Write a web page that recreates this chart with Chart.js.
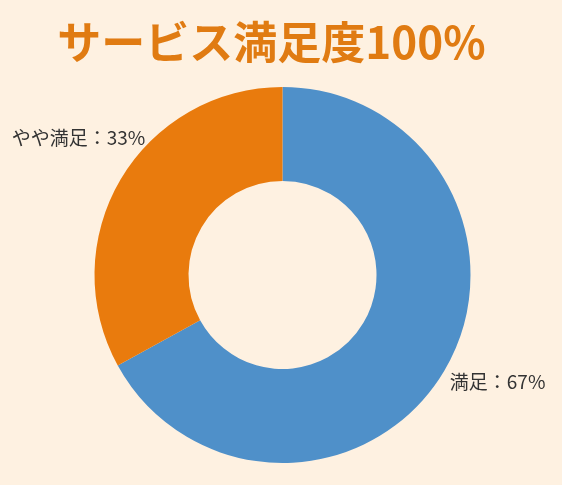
<!DOCTYPE html>
<html><head><meta charset="utf-8">
<script src="https://cdn.jsdelivr.net/npm/chart.js@4.4.0/dist/chart.umd.min.js"></script>
<style>
html,body{margin:0;padding:0;background:#fef1e1;}
#wrap{width:562px;height:485px;position:relative;}
</style></head>
<body><div id="wrap"><canvas id="c" width="562" height="485"></canvas></div>
<script>
const titleText = 'サービス満足度100%';
const categories = ['満足', 'やや満足'];
const values = [67, 33];
const colors = ['#4f90c9', '#e97b0d'];

const labelPlugin = {
  id: 'labels',
  afterDatasetsDraw(chart) {
    const ctx = chart.ctx;
    const meta = chart.getDatasetMeta(0);
    ctx.save();
    ctx.font = '19px "Noto Sans CJK JP", sans-serif';
    ctx.fillStyle = '#333333';
    ctx.textBaseline = 'middle';
    meta.data.forEach((arc, i) => {
      const p = arc.getProps(['x','y','outerRadius','startAngle','endAngle'], true);
      const mid = (p.startAngle + p.endAngle) / 2;
      const txt = categories[i] + '：' + values[i] + '%';
      const R = p.outerRadius;
      if (Math.cos(mid) >= 0) {
        ctx.textAlign = 'left';
        ctx.fillText(txt, p.x + 0.89 * R, p.y + 0.57 * R);
      } else {
        ctx.textAlign = 'right';
        ctx.fillText(txt, p.x - 0.73 * R, p.y - 0.73 * R);
      }
    });
    ctx.restore();
  }
};

const titlePlugin = {
  id: 'mytitle',
  afterDraw(chart) {
    const ctx = chart.ctx;
    ctx.save();
    ctx.font = 'bold 44px "Noto Sans CJK JP", sans-serif';
    ctx.fillStyle = '#e07b12';
    ctx.textAlign = 'center';
    ctx.textBaseline = 'middle';
    ctx.fillText(titleText, 271.5, 42);
    ctx.restore();
  }
};

new Chart(document.getElementById('c'), {
  type: 'doughnut',
  data: {
    labels: categories,
    datasets: [{
      data: values,
      backgroundColor: colors,
      borderWidth: 0
    }]
  },
  options: {
    responsive: false,
    animation: false,
    cutout: '50%',
    layout: { padding: { top: 87, bottom: 22, left: 3, right: 0 } },
    plugins: {
      legend: { display: false },
      tooltip: { enabled: false },
      title: { display: false }
    }
  },
  plugins: [labelPlugin, titlePlugin]
});
</script>
</body></html>
